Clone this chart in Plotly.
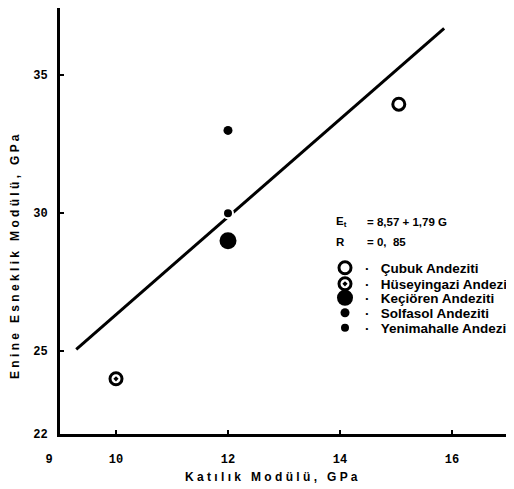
import plotly.graph_objects as go

# ---- data ----
categories = ["Çubuk Andeziti", "Hüseyingazi Andeziti", "Keçiören Andeziti",
              "Solfasol Andeziti", "Yenimahalle Andeziti"]
katilik_modulu = [15.05, 10.0, 12.0, 12.0, 12.0]      # G, GPa
enine_modulu = [33.95, 24.0, 29.0, 33.0, 30.0]        # Et, GPa
fit_x = [9.29, 15.86]
fit_y = [25.07, 36.7]
x_tickvals = [9, 10, 12, 14, 16]
x_ticktext = ["9\u00a0\u00a0\u00a0", "10", "12", "14", "16"]
y_tickvals = [22, 25, 30, 35]

symbols = ["circle-open", "circle-open-dot", "circle", "circle", "circle"]
sizes = [12, 12, 17, 9, 10]
linewidths = [3, 3, 0, 0, 2]
linecolors = ["black", "black", "black", "black", "white"]
legend_rows = [268, 284, 298, 313, 328]   # page y of legend rows

W, H = 514, 489
OFF = 8                     # default body margin of the html page
ML, MR, MT, MB = 52, 8, 0, 63
PW, PH = W - ML - MR, H - MT - MB

def px(xp):
    return (xp - OFF - ML) / PW

def py(yp):
    return (H - MB - (yp - OFF)) / PH

fig = go.Figure()
fig.add_trace(go.Scatter(x=fit_x, y=fit_y, mode="lines",
                         line=dict(color="black", width=3), showlegend=False,
                         hoverinfo="skip"))
lfont = dict(family="Liberation Sans", size=13.5, color="black", weight="bold")
legends = {}
for i, name in enumerate(categories):
    lname = "legend" if i == 0 else "legend%d" % (i + 1)
    fig.add_trace(go.Scatter(
        x=[katilik_modulu[i]], y=[enine_modulu[i]], mode="markers",
        name="·\u00a0\u00a0\u00a0" + name, legend=lname,
        marker=dict(symbol=symbols[i], size=sizes[i], color="black",
                    line=dict(color=linecolors[i], width=linewidths[i]))))
    legends[lname] = dict(x=px(325), y=py(legend_rows[i]), xanchor="left",
                          yanchor="middle", bgcolor="rgba(0,0,0,0)",
                          font=lfont, borderwidth=0)

tickfont = dict(family="Liberation Mono", size=12, color="black", weight="bold")
fig.update_xaxes(range=[9, 9 + PW / 56.0], showline=True, linewidth=3,
                 linecolor="black", ticks="inside", ticklen=4, tickwidth=2,
                 tickcolor="black", tickvals=x_tickvals, ticktext=x_ticktext,
                 showgrid=False, zeroline=False, tickfont=tickfont,
                 ticklabelstandoff=12)
fig.update_yaxes(range=[22, 22 + PH / 27.6], showline=True, linewidth=3,
                 linecolor="black", ticks="inside", ticklen=4, tickwidth=2,
                 tickcolor="black", tickvals=y_tickvals,
                 showgrid=False, zeroline=False, tickfont=tickfont,
                 ticklabelstandoff=7)

tfont = dict(family="Liberation Sans", size=12, color="black", weight="bold")
efont = dict(family="Liberation Sans", size=11.5, color="black", weight="bold")
annotations = [
    dict(x=px(271), y=py(477), text="K a t ı l ı k   M o d ü l ü ,   G P a",
         textangle=0),
    dict(x=px(15), y=py(257),
         text="E n i n e   E s n e k l i k   M o d ü l ü ,   G P a",
         textangle=-90),
]
annotations = [dict(xref="paper", yref="paper", showarrow=False,
                    xanchor="center", yanchor="middle", font=tfont, **a)
               for a in annotations]
for x0, y0, t in [(334, 222, "E<sub>t</sub>"), (365, 222, "= 8,57 + 1,79 G"),
                  (334, 242, "R"), (365, 242, "= 0,  85")]:
    annotations.append(dict(xref="paper", yref="paper", x=px(x0), y=py(y0),
                            text=t, showarrow=False, xanchor="left",
                            yanchor="middle", font=efont))

fig.update_layout(
    width=W, height=H, margin=dict(l=ML, r=MR, t=MT, b=MB),
    plot_bgcolor="white", paper_bgcolor="white",
    annotations=annotations,
    **legends,
)

fig.write_html("out.html")
